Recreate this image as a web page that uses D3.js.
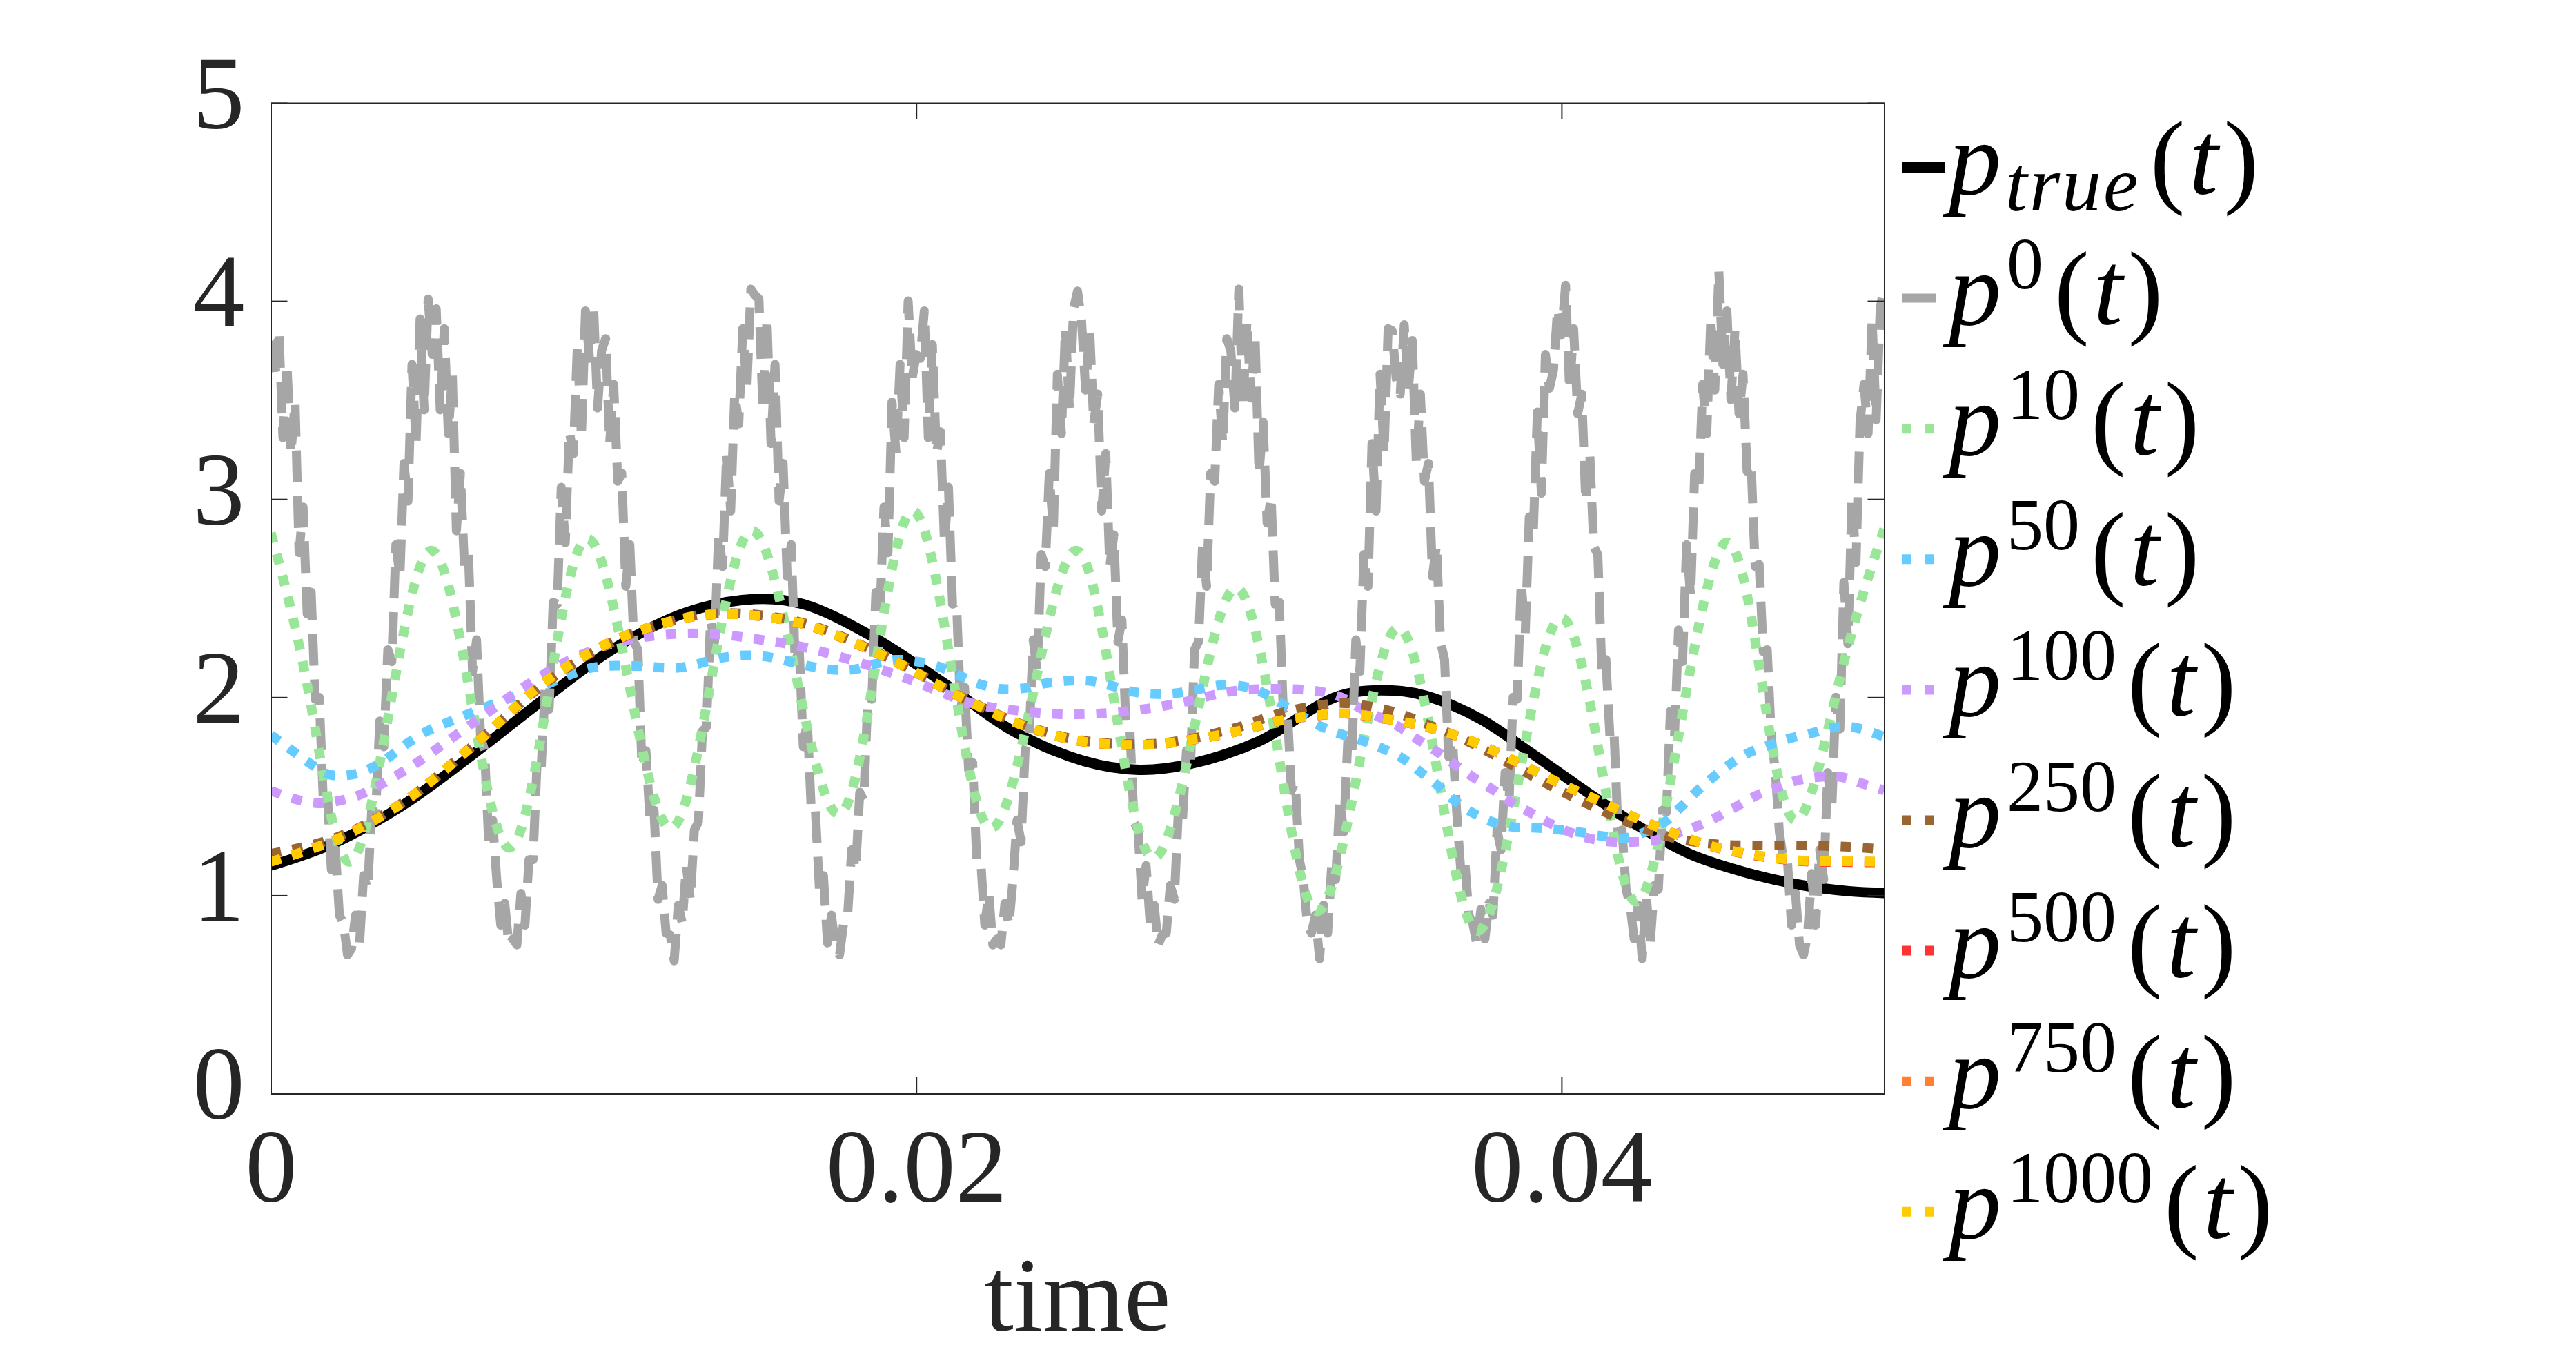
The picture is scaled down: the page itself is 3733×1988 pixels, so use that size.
<!DOCTYPE html>
<html>
<head>
<meta charset="utf-8">
<script src="https://cdn.jsdelivr.net/npm/d3@7"></script>
<style>
  html, body { margin: 0; padding: 0; background: #ffffff; }
  svg { display: block; }
  svg text { font-family: 'Liberation Serif', 'Times New Roman', serif; }
</style>
</head>
<body>
<svg id="chart" width="3733" height="1988"></svg>
<script>
// ---------------- DATA (time in ms, value) ----------------
const xTicks = [0, 0.02, 0.04];
const xTickLabels = ["0", "0.02", "0.04"];
const yTicks = [0, 1, 2, 3, 4, 5];
const yTickLabels = ["0", "1", "2", "3", "4", "5"];

const pTrue = [[0,1.15],[1.91,1.26],[4.1,1.456],[6.28,1.714],[8.46,1.99],[10.64,2.247],[12.82,2.425],[15.0,2.496],[16.5,2.47],[18.6,2.31],[20.8,2.078],[23.0,1.83],[25.2,1.678],[26.9,1.634],[28.4,1.66],[30.6,1.776],[33.1,2.007],[34.74,2.034],[35.8,2.007],[37.47,1.892],[39.1,1.714],[40.74,1.527],[42.38,1.35],[44.0,1.207],[45.65,1.118],[47.3,1.056],[48.9,1.021],[50,1.012]];

// p0 sampled every 0.125 ms from t = 0 to 50 ms (noisy signal)
const p0Step = 0.125;
const p0 = [
 3.80,3.61,3.85,3.31,3.68,3.23,3.49,2.73,2.96,2.42,2.53,1.99,2.00,1.48,1.52,1.13,1.23,0.90,0.86,0.70,
 0.73,0.90,0.76,1.10,1.03,1.43,1.42,1.88,1.75,2.24,2.18,2.77,2.61,3.18,2.99,3.68,3.28,3.91,3.45,4.01,
 3.73,3.96,3.45,3.86,3.33,3.63,2.84,3.13,2.66,2.72,2.13,2.29,1.80,1.73,1.27,1.38,1.08,0.85,0.96,0.75,
 0.78,0.75,1.01,0.85,1.18,1.18,1.67,1.63,2.05,1.94,2.48,2.47,3.06,2.78,3.34,3.23,3.78,3.31,3.95,3.71,
 3.98,3.46,3.75,3.81,3.28,3.58,3.09,3.13,2.56,2.77,2.28,2.24,1.65,1.73,1.37,1.43,0.98,1.05,0.81,0.80,
 0.67,0.95,0.86,1.15,0.98,1.33,1.37,1.83,1.85,2.39,2.28,2.82,2.66,3.23,2.94,3.53,3.38,3.86,3.55,4.06,
 4.03,4.01,3.45,3.91,3.28,3.68,2.99,3.18,2.61,2.77,2.18,2.24,1.75,1.88,1.42,1.43,1.03,1.10,0.76,0.90,
 0.73,0.70,0.86,0.90,1.23,1.13,1.52,1.48,2.00,1.99,2.53,2.42,2.96,2.73,3.49,3.23,3.68,3.31,4.00,3.61,
 3.73,3.71,3.95,3.31,3.78,3.23,3.34,2.78,3.06,2.47,2.48,1.94,2.05,1.63,1.67,1.18,1.18,0.85,1.01,0.75,
 0.78,0.75,0.96,0.85,1.08,1.38,1.27,1.73,1.80,2.29,2.13,2.72,2.66,3.13,2.84,3.63,3.33,3.86,3.45,3.96,
 4.05,3.90,3.55,3.86,3.38,3.53,2.94,3.23,2.66,2.82,2.28,2.39,1.85,1.83,1.37,1.33,0.98,1.15,0.86,0.95,
 0.75,0.80,0.81,1.05,0.98,1.43,1.37,1.73,1.65,2.24,2.28,2.77,2.56,3.13,3.09,3.58,3.28,3.81,3.75,3.46,
 4.06,3.46,3.90,3.51,3.83,3.13,3.39,2.88,3.01,2.47,2.48,1.94,1.95,1.53,1.57,1.18,1.08,0.85,0.81,0.90,
 0.68,0.95,0.81,1.15,1.08,1.48,1.32,1.78,1.70,2.29,2.13,2.72,2.56,3.28,2.94,3.63,3.23,3.86,3.85,3.61,
 3.53,3.88,3.55,3.80,3.18,3.53,3.09,3.18,2.61,2.77,2.28,2.19,1.70,1.78,1.42,1.13,1.18,0.90,0.86,0.75,
 0.93,0.78,0.96,0.90,1.33,1.23,1.62,1.48,2.00,1.99,2.58,2.32,2.91,2.83,3.44,3.03,3.73,3.56,3.65,3.96,
 3.83,4.08,3.55,3.86,3.43,3.53,2.99,3.23,2.76,2.72,2.13,2.19,1.80,1.83,1.32,1.33,1.03,0.95,0.78,0.95,
 0.68,1.00,0.76,1.05,1.03,1.43,1.42,1.93,1.80,2.34,2.18,2.77,2.51,3.13,3.04,3.58,3.33,3.91,3.55,4.15,
 3.68,3.95,3.50,3.86,3.43,3.63,3.14,3.18,2.66,2.67,2.23,2.24,1.80,1.63,1.32,1.18,1.18,0.85,1.01,0.75,
 0.70,0.80,1.11,0.85,1.23,1.08,1.62,1.43,2.00,1.84,2.58,2.27,3.01,2.68,3.39,3.58,3.33,3.91,3.40,3.96,
 4.08
];

const p10 = [[0,2.83],[1.2,2.0],[2.4,1.17],[3.7,1.96],[4.97,2.74],[6.2,1.99],[7.4,1.24],[8.6,2.02],[9.8,2.80],[11.1,2.07],[12.4,1.34],[13.65,2.09],[14.9,2.84],[16.25,2.13],[17.6,1.41],[18.75,2.17],[19.9,2.94],[21.1,2.14],[22.3,1.34],[23.65,2.04],[24.98,2.74],[26.15,1.965],[27.33,1.19],[28.65,1.87],[29.95,2.55],[31.2,1.74],[32.4,0.92],[33.7,1.64],[34.96,2.35],[36.2,1.58],[37.41,0.82],[38.7,1.61],[39.97,2.40],[41.2,1.685],[42.37,0.97],[43.7,1.875],[45.08,2.78],[46.2,2.08],[47.3,1.38],[48.65,2.11],[50,2.85]];

const p50 = [[0,1.81],[0.69,1.727],[1.26,1.661],[1.81,1.61],[2.52,1.61],[3.2,1.65],[3.72,1.705],[4.26,1.771],[4.86,1.83],[5.5,1.874],[6.72,1.954],[8.46,2.06],[9.99,2.15],[11.3,2.158],[12.67,2.15],[14.0,2.2],[14.68,2.212],[15.36,2.205],[16.63,2.159],[17.35,2.14],[18.05,2.14],[18.7,2.167],[19.36,2.189],[20.0,2.181],[20.73,2.153],[21.33,2.11],[21.98,2.066],[22.6,2.043],[23.35,2.046],[24.0,2.07],[24.69,2.083],[25.37,2.083],[26.0,2.06],[26.67,2.029],[27.35,2.017],[28.04,2.02],[28.7,2.04],[29.4,2.06],[30.06,2.057],[30.7,2.026],[31.37,1.963],[32.5,1.856],[33.2,1.812],[33.76,1.785],[34.4,1.745],[35.07,1.692],[35.6,1.626],[36.16,1.555],[36.65,1.483],[37.2,1.421],[37.85,1.371],[38.5,1.346],[39.2,1.341],[39.9,1.332],[40.6,1.318],[41.24,1.30],[41.9,1.288],[42.5,1.314],[43.2,1.371],[43.7,1.447],[44.2,1.527],[44.67,1.593],[45.2,1.66],[45.8,1.719],[46.5,1.762],[47.1,1.794],[47.78,1.82],[48.4,1.847],[49.1,1.847],[50,1.80]];

const p100 = [[0,1.528],[0.82,1.483],[1.48,1.465],[2.13,1.478],[2.79,1.51],[3.44,1.563],[4.53,1.67],[5.68,1.803],[6.83,1.936],[7.92,2.06],[9.12,2.176],[10.65,2.274],[12.39,2.318],[13.81,2.318],[15.12,2.292],[16.43,2.256],[17.84,2.195],[19.69,2.096],[21.66,1.972],[22.96,1.936],[24.38,1.915],[25.69,1.918],[27.06,1.94],[28.42,1.98],[29.73,2.029],[31.15,2.043],[32.46,2.03],[33.2,1.998],[33.76,1.945],[34.35,1.90],[35.0,1.847],[35.56,1.785],[36.16,1.723],[36.7,1.66],[37.25,1.598],[37.85,1.536],[38.4,1.474],[38.99,1.421],[39.6,1.367],[40.2,1.323],[40.85,1.288],[41.56,1.27],[42.2,1.27],[42.9,1.278],[43.6,1.314],[44.2,1.35],[44.8,1.394],[45.4,1.447],[46.0,1.501],[46.7,1.545],[47.3,1.58],[48.0,1.598],[48.65,1.598],[49.35,1.563],[50,1.53]];

const p250 = [[0,1.21],[2.0,1.29],[4.1,1.47],[6.3,1.76],[8.5,2.07],[10.6,2.28],[12.8,2.40],[14.0,2.425],[15.6,2.405],[17.0,2.35],[19.5,2.17],[21.3,2.01],[23.2,1.868],[25.2,1.78],[27.3,1.765],[28.5,1.79],[30.0,1.85],[31.3,1.92],[32.5,1.96],[33.3,1.97],[34.6,1.935],[35.9,1.86],[37.25,1.765],[38.56,1.65],[39.76,1.545],[40.96,1.45],[42.27,1.355],[43.47,1.29],[44.78,1.258],[46.2,1.252],[47.5,1.252],[48.9,1.245],[50,1.232]];

const p500 = [[0,1.17],[2.0,1.28],[4.1,1.47],[6.3,1.76],[8.5,2.076],[10.6,2.283],[12.8,2.398],[14.0,2.42],[15.6,2.40],[17.0,2.344],[19.5,2.166],[21.3,2.006],[23.2,1.864],[25.2,1.775],[27.3,1.761],[28.5,1.784],[30.0,1.829],[31.3,1.882],[32.5,1.909],[33.3,1.917],[34.6,1.889],[35.9,1.846],[37.25,1.775],[38.56,1.677],[39.76,1.579],[40.96,1.491],[42.27,1.393],[43.47,1.313],[44.78,1.242],[46.2,1.196],[47.5,1.172],[48.9,1.168],[50,1.166]];

const p750 = [[0,1.17],[2.0,1.28],[4.1,1.47],[6.3,1.76],[8.5,2.077],[10.6,2.284],[12.8,2.399],[14.0,2.42],[15.6,2.40],[17.0,2.345],[19.5,2.167],[21.3,2.007],[23.2,1.865],[25.2,1.776],[27.3,1.762],[28.5,1.785],[30.0,1.83],[31.3,1.883],[32.5,1.91],[33.3,1.918],[34.6,1.89],[35.9,1.847],[37.25,1.776],[38.56,1.678],[39.76,1.58],[40.96,1.492],[42.27,1.394],[43.47,1.314],[44.78,1.243],[46.2,1.198],[47.5,1.174],[48.9,1.171],[50,1.169]];

const p1000 = [[0,1.17],[2.0,1.28],[4.1,1.47],[6.3,1.76],[8.5,2.078],[10.6,2.284],[12.8,2.399],[14.0,2.42],[15.6,2.40],[17.0,2.345],[19.5,2.167],[21.3,2.007],[23.2,1.865],[25.2,1.776],[27.3,1.762],[28.5,1.785],[30.0,1.83],[31.3,1.883],[32.5,1.91],[33.3,1.918],[34.6,1.89],[35.9,1.847],[37.25,1.776],[38.56,1.678],[39.76,1.58],[40.96,1.492],[42.27,1.394],[43.47,1.314],[44.78,1.243],[46.2,1.199],[47.5,1.175],[48.9,1.172],[50,1.17]];

const seriesNames = ["true", "0", "10", "50", "100", "250", "500", "750", "1000"];
const seriesColors = ["#000000", "#A6A6A6", "#99E699", "#66CCFF", "#CC99FF", "#996633", "#FF3333", "#FF8033", "#FFCC00"];

// ---------------- LAYOUT ----------------
const svg = d3.select("#chart");
const W = 3733, H = 1988;
const L = 392.5, R = 2730.5, T = 149, B = 1584.5;
const axisColor = "#262626";
const serif = "'Liberation Serif', 'Times New Roman', serif";

svg.append("rect").attr("x", 0).attr("y", 0).attr("width", W).attr("height", H).attr("fill", "#ffffff");

const x = d3.scaleLinear().domain([0, 0.05]).range([L, R]);
const y = d3.scaleLinear().domain([0, 5]).range([B, T]);

svg.append("defs").append("clipPath").attr("id", "plotclip")
  .append("rect").attr("x", L).attr("y", T).attr("width", R - L).attr("height", B - T);

const p0Pairs = p0.map((v, i) => [i * p0Step, v]);
const smooth = d3.curveCatmullRom.alpha(0.5);
const dotDash = "15 17";
const allSeries = [
  { data: pTrue, color: seriesColors[0], width: 15, dash: null, curve: smooth },
  { data: p0Pairs, color: seriesColors[1], width: 13, dash: "46 20", curve: d3.curveLinear },
  { data: p10, color: seriesColors[2], width: 14, dash: dotDash, curve: d3.curveNatural },
  { data: p50, color: seriesColors[3], width: 14, dash: dotDash, curve: smooth },
  { data: p100, color: seriesColors[4], width: 14, dash: dotDash, curve: smooth },
  { data: p250, color: seriesColors[5], width: 14, dash: dotDash, curve: smooth },
  { data: p500, color: seriesColors[6], width: 14, dash: dotDash, curve: smooth },
  { data: p750, color: seriesColors[7], width: 14, dash: dotDash, curve: smooth },
  { data: p1000, color: seriesColors[8], width: 14, dash: dotDash, curve: smooth }
];

const gLines = svg.append("g").attr("clip-path", "url(#plotclip)");
allSeries.forEach(s => {
  const line = d3.line().x(d => x(d[0] / 1000)).y(d => y(d[1])).curve(s.curve);
  gLines.append("path")
    .attr("d", line(s.data))
    .attr("fill", "none")
    .attr("stroke", s.color)
    .attr("stroke-width", s.width)
    .attr("stroke-dasharray", s.dash)
    .attr("stroke-linejoin", "round")
    .attr("stroke-linecap", "butt");
});

// ---------------- AXES ----------------
function styleAxis(g) {
  g.attr("font-family", null).attr("font-size", null);
  g.selectAll(".domain").attr("stroke", axisColor).attr("stroke-width", 2);
  g.selectAll(".tick line").attr("stroke", axisColor).attr("stroke-width", 2);
  g.selectAll("text").attr("fill", axisColor)
    .style("font-family", serif).style("font-size", "150px");
}

const gxB = svg.append("g").attr("transform", `translate(0,${B})`)
  .call(d3.axisBottom(x).tickValues(xTicks).tickSize(-24).tickSizeOuter(0)
    .tickFormat((d, i) => xTickLabels[i]));
styleAxis(gxB);
gxB.selectAll("text").attr("y", 156).attr("dy", 0);

const gxT = svg.append("g").attr("transform", `translate(0,${T})`)
  .call(d3.axisTop(x).tickValues(xTicks).tickSize(-24).tickSizeOuter(0).tickFormat(""));
styleAxis(gxT);

const gyL = svg.append("g").attr("transform", `translate(${L},0)`)
  .call(d3.axisLeft(y).tickValues(yTicks).tickSize(-24).tickSizeOuter(0)
    .tickFormat((d, i) => yTickLabels[i]));
styleAxis(gyL);
gyL.selectAll("text").attr("x", -38).attr("dy", 0).attr("y", 36);

const gyR = svg.append("g").attr("transform", `translate(${R},0)`)
  .call(d3.axisRight(y).tickValues(yTicks).tickSize(-24).tickSizeOuter(0).tickFormat(""));
styleAxis(gyR);

// x label
svg.append("text")
  .attr("x", (L + R) / 2).attr("y", 1928)
  .attr("text-anchor", "middle")
  .style("font-family", serif).style("font-size", "152px")
  .attr("fill", axisColor)
  .text("time");

// ---------------- LEGEND ----------------
const legX0 = 2756, legX1 = 2819, legY0 = 243, legStep = 189.1, textX = 2824;
const gLeg = svg.append("g");
allSeries.forEach((s, i) => {
  const ly = legY0 + i * legStep;
  gLeg.append("line")
    .attr("x1", legX0).attr("x2", legX1).attr("y1", ly).attr("y2", ly)
    .attr("stroke", s.color)
    .attr("stroke-width", i === 0 ? 16 : s.width)
    .attr("stroke-dasharray", s.dash === null ? null : (i === 1 ? "49 20" : "14 19"))
    .attr("stroke-linecap", "butt");

  const name = seriesNames[i];
  const t = gLeg.append("text")
    .attr("x", textX).attr("y", ly + 38)
    .style("font-family", serif).style("font-size", "152px").attr("fill", "#000000");
  t.append("tspan").style("font-style", "italic").text("p");
  if (name === "true") {
    t.append("tspan").style("font-style", "italic").style("font-size", "114px")
      .attr("dx", 6).attr("dy", 24).attr("letter-spacing", 3).text(name);
    t.append("tspan").attr("dx", 14).attr("dy", -24).text("(");
  } else {
    t.append("tspan").style("font-size", "106px")
      .attr("dx", 8).attr("dy", -52).text(name);
    t.append("tspan").attr("dx", 16).attr("dy", 52).text("(");
  }
  t.append("tspan").style("font-style", "italic").attr("dx", 6).text("t");
  t.append("tspan").attr("dx", 8).text(")");
});
</script>
</body>
</html>
